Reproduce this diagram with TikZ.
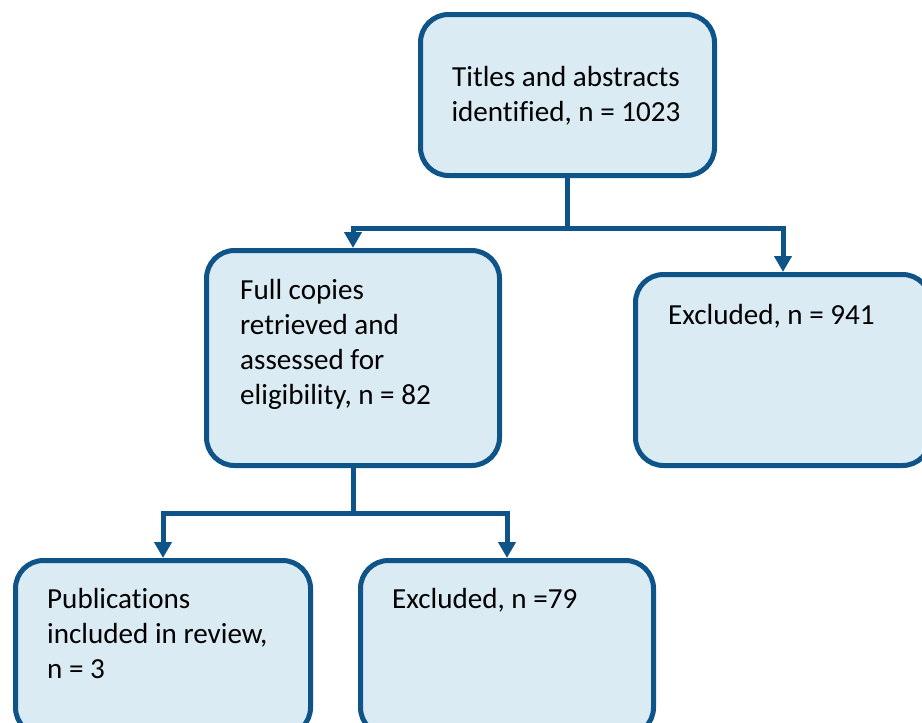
\documentclass[tikz,border=0pt]{standalone}
\usepackage{fontspec}
\setmainfont{Carlito}[Ligatures=NoCommon]
\usetikzlibrary{arrows.meta,calc}
\definecolor{edgeblue}{RGB}{14,84,137}
\definecolor{boxfill}{RGB}{219,235,244}
\begin{document}
\begin{tikzpicture}[x=1pt,y=-1pt,
  box/.style={draw=edgeblue, fill=boxfill, line width=5pt, rounded corners=28pt, inner sep=0pt},
  txt/.style={font=\fontsize{29.1pt}{35pt}\selectfont, inner sep=0pt, text=black},
  conn/.style={draw=edgeblue, line width=5pt},
  arr/.style={conn, -{Triangle[width=17pt,length=16pt]}}]
\useasboundingbox (0,0) rectangle (922,723);
\clip (0,0) rectangle (922,723);
\node[box, minimum width=294pt, minimum height=161pt] (top) at (567.5,95) {};
\node[box, minimum width=293pt, minimum height=215pt] (full) at (353,358) {};
\node[box, minimum width=295pt, minimum height=191pt] (exca) at (783,370) {};
\node[box, minimum width=295pt, minimum height=175pt] (pub) at (163,648) {};
\node[box, minimum width=293pt, minimum height=175pt] (excb) at (507,648) {};
\node[txt, anchor=north, align=center] (ttop) at (566,66.5) {Titles and abstracts\\identified, n = 1023};
\node[txt, anchor=north west, align=left] (tfull) at (240,279.5) {Full copies\\retrieved and\\assessed for\\eligibility, n = 82};
\node[txt, anchor=north west, align=left] (texca) at (668,304.5) {Excluded, n = 941};
\node[txt, anchor=north west, align=left] (tpub) at (47,588.5) {Publications\\included in review,\\n = 3};
\node[txt, anchor=north west, align=left] (texcb) at (392,588.5) {Excluded, n =79};
\coordinate (j1) at ($(top.south)+(0,50)$);
\coordinate (j2) at ($(full.south)+(0,45)$);
\draw[conn] (top.south) -- (j1);
\draw[arr] (j1) -| (full.north);
\draw[arr] (j1) -| (exca.north);
\draw[conn] (full.south) -- (j2);
\draw[arr] (j2) -| (pub.north);
\draw[arr] (j2) -| (excb.north);
\end{tikzpicture}
\end{document}
